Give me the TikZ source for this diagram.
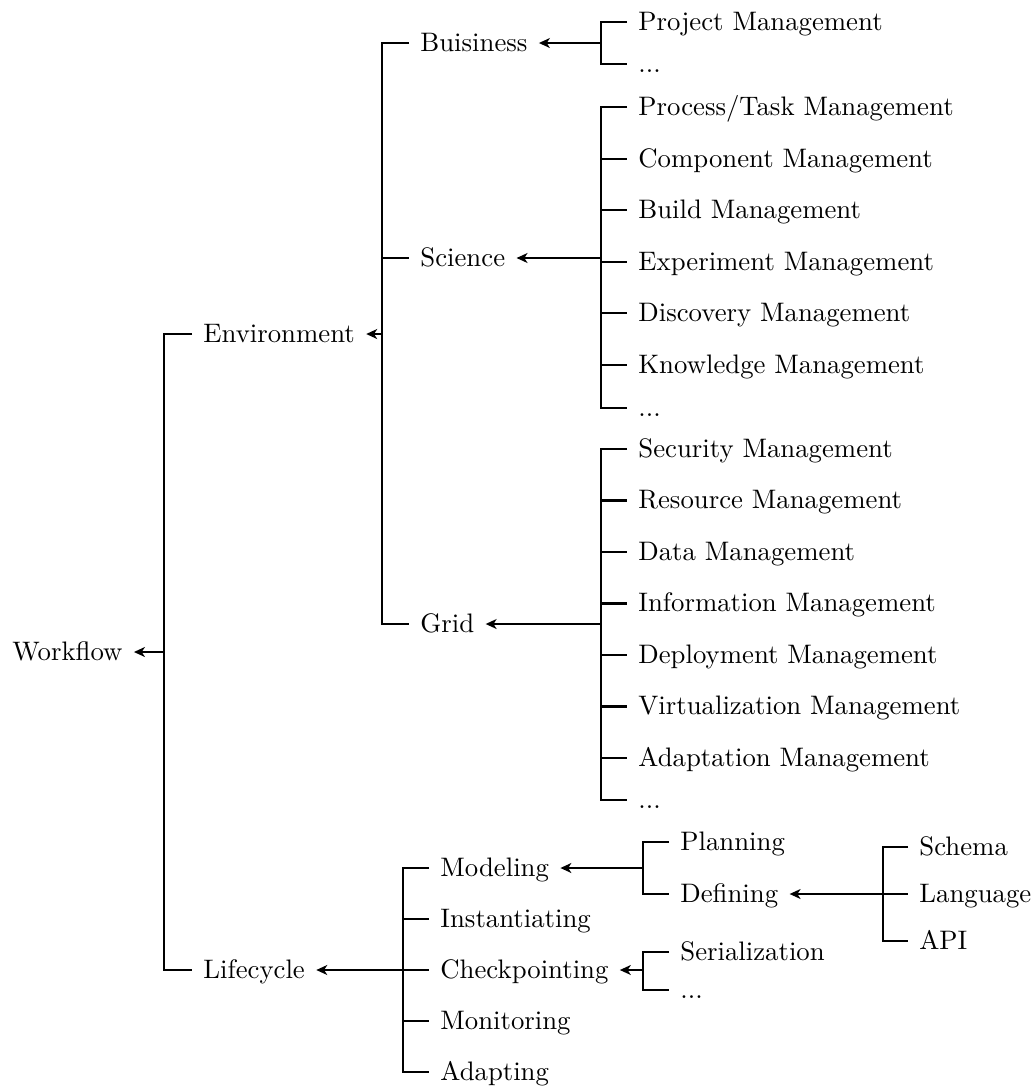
\documentclass[tikz,border=0pt]{standalone}
\usetikzlibrary{arrows.meta}

\begin{document}
\begin{tikzpicture}[
      x=0.385pt, y=-0.385pt,
      item/.style={anchor=west, inner xsep=4.2pt, inner ysep=1pt,
                   text height=1.5ex, text depth=0pt,
                   font=\fontsize{10.3pt}{12pt}\selectfont},
      fork/.style={draw=black, line width=0.8pt},
      link/.style={draw=black, line width=0.8pt,
                   -{Stealth[length=4.2pt,width=3.8pt,inset=1.2pt]}},
    ]
    \useasboundingbox (0,0) rectangle (1036,1087);

    % ---- fork positions --------------------------------------------
    \coordinate (wf-fork)   at (164,0);
    \coordinate (env-fork)  at (382,0);
    \coordinate (leaf-fork) at (601,0);
    \coordinate (life-fork) at (403,0);
    \coordinate (mod-fork)  at (643,0);
    \coordinate (def-fork)  at (883,0);

    % ---- root and first level --------------------------------------
    \node[item] (wf)   at (1,652)   {Workflow};
    \node[item] (env)  at (192,334) {Environment};
    \node[item] (life) at (192,970) {Lifecycle};

    % ---- environment branch ----------------------------------------
    \node[item] (bus)  at (409,43)  {Buisiness};
    \node[item] (sci)  at (409,258) {Science};
    \node[item] (grid) at (409,624) {Grid};

    \node[item] (b1) at (627,22) {Project Management};
    \node[item] (b2) at (627,64) {...};

    \foreach \lbl [count=\i] in {Process/Task Management,
        Component Management, Build Management, Experiment Management,
        Discovery Management, Knowledge Management}
      \node[item] (s\i) at (627,107+51.6*\i-51.6) {\lbl};
    \node[item] (s7) at (627,408) {...};

    \foreach \lbl [count=\i] in {Security Management,
        Resource Management, Data Management, Information Management,
        Deployment Management, Virtualization Management,
        Adaptation Management}
      \node[item] (g\i) at (627,449+51.5*\i-51.5) {\lbl};
    \node[item] (g8) at (627,800) {...};

    % ---- lifecycle branch ------------------------------------------
    \foreach \lbl/\nm [count=\i] in {Modeling/mod, Instantiating/inst,
        Checkpointing/chk, Monitoring/mon, Adapting/adp}
      \node[item] (\nm) at (429,868+51*\i-51) {\lbl};

    \node[item] (plan) at (669,842) {Planning};
    \node[item] (def)  at (669,894) {Defining};
    \node[item] (ser)  at (669,952) {Serialization};
    \node[item] (ser2) at (669,990) {...};

    \node[item] (sch)  at (908,847) {Schema};
    \node[item] (lang) at (908,894) {Language};
    \node[item] (api)  at (908,941) {API};

    % ---- forks -----------------------------------------------------
    \draw[fork] (env.west) -- (env.west -| wf-fork)
      -- (life.west -| wf-fork) -- (life.west);
    \draw[link] (wf.east -| wf-fork) -- (wf.east);

    \draw[fork] (bus.west) -- (bus.west -| env-fork)
      -- (grid.west -| env-fork) -- (grid.west);
    \draw[fork] (sci.west -| env-fork) -- (sci.west);
    \draw[link] (env.east -| env-fork) -- (env.east);

    \draw[fork] (b1.west) -- (b1.west -| leaf-fork)
      -- (b2.west -| leaf-fork) -- (b2.west);
    \draw[link] (bus.east -| leaf-fork) -- (bus.east);

    \draw[fork] (s1.west) -- (s1.west -| leaf-fork)
      -- (s7.west -| leaf-fork) -- (s7.west);
    \foreach \i in {2,...,6}
      \draw[fork] (s\i.west -| leaf-fork) -- (s\i.west);
    \draw[link] (sci.east -| leaf-fork) -- (sci.east);

    \draw[fork] (g1.west) -- (g1.west -| leaf-fork)
      -- (g8.west -| leaf-fork) -- (g8.west);
    \foreach \i in {2,...,7}
      \draw[fork] (g\i.west -| leaf-fork) -- (g\i.west);
    \draw[link] (grid.east -| leaf-fork) -- (grid.east);

    \draw[fork] (mod.west) -- (mod.west -| life-fork)
      -- (adp.west -| life-fork) -- (adp.west);
    \foreach \nm in {inst, chk, mon}
      \draw[fork] (\nm.west -| life-fork) -- (\nm.west);
    \draw[link] (life.east -| life-fork) -- (life.east);

    \draw[fork] (plan.west) -- (plan.west -| mod-fork)
      -- (def.west -| mod-fork) -- (def.west);
    \draw[link] (mod.east -| mod-fork) -- (mod.east);

    \draw[fork] (ser.west) -- (ser.west -| mod-fork)
      -- (ser2.west -| mod-fork) -- (ser2.west);
    \draw[link] (chk.east -| mod-fork) -- (chk.east);

    \draw[fork] (sch.west) -- (sch.west -| def-fork)
      -- (api.west -| def-fork) -- (api.west);
    \draw[fork] (lang.west -| def-fork) -- (lang.west);
    \draw[link] (def.east -| def-fork) -- (def.east);

  \end{tikzpicture}
\end{document}
